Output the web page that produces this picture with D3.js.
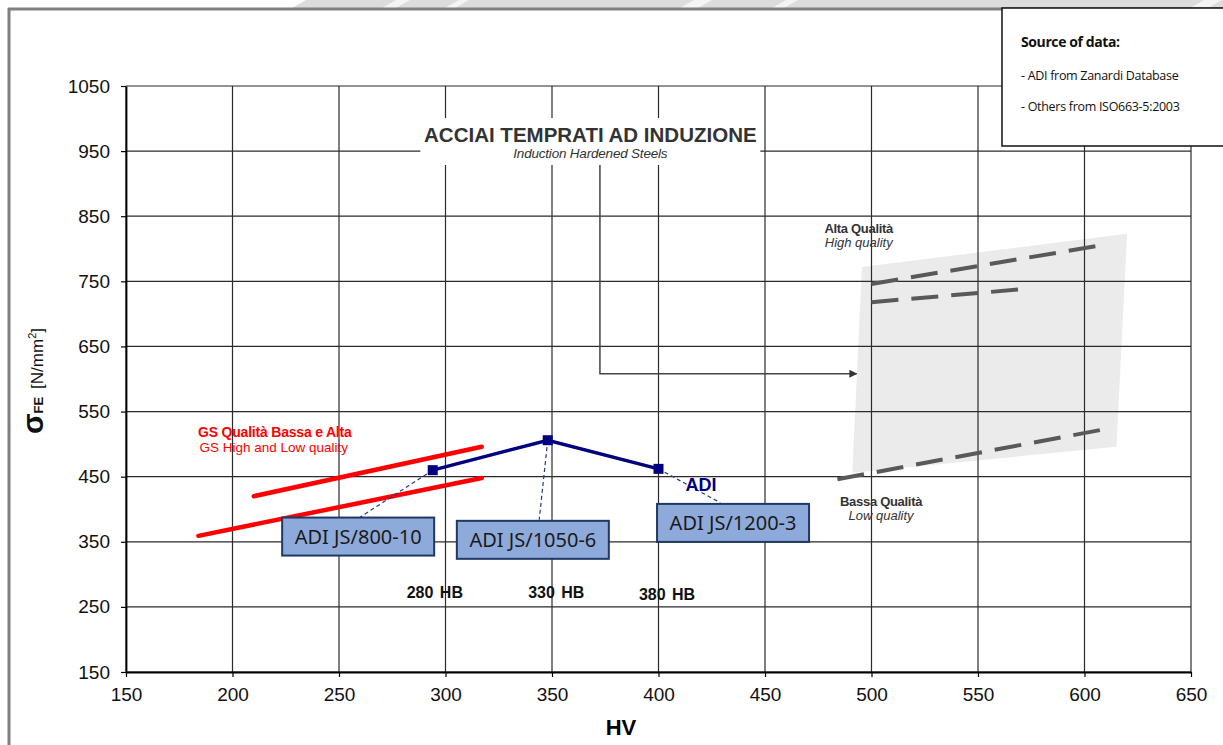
<!DOCTYPE html>
<html>
<head>
<meta charset="utf-8">
<script src="https://cdn.jsdelivr.net/npm/d3@7"></script>
<style>
  body { margin: 0; background: #fff; }
  svg { display: block; }
</style>
</head>
<body>
<div id="chart"></div>
<script>
// tick labels
const xTicks = [150, 200, 250, 300, 350, 400, 450, 500, 550, 600, 650];
const yTicks = [150, 250, 350, 450, 550, 650, 750, 850, 950, 1050];

// ADI (Zanardi)
const adiHV = [294, 348, 400];
const adiSigma = [460, 506, 462];
const adiGrades = ["ADI JS/800-10", "ADI JS/1050-6", "ADI JS/1200-3"];
const adiHB = ["280 HB", "330 HB", "380 HB"];
const gradeBoxHV = [259, 341, 435];
const gradeBoxSigma = [358, 353, 379];
const leaderHV = [260, 344, 429];
const leaderSigma = [388, 384, 410];
const hbLabelHV = [295, 352, 404];
const hbLabelSigma = [264, 264, 261];

// GS (ISO)
const gsHighHV = [210, 317];
const gsHighSigma = [420, 496];
const gsLowHV = [184, 317];
const gsLowSigma = [359, 448];

// Induction hardened steels
const ihHigh1HV = [500, 609];
const ihHigh1Sigma = [746, 806];
const ihHigh2HV = [500, 571];
const ihHigh2Sigma = [718, 738];
const ihLowHV = [484, 613];
const ihLowSigma = [446, 525];
const ihBandHV = [495.5, 620, 615, 491];
const ihBandSigma = [772, 823, 496, 456];
const arrowHV = [372.5, 372.5, 493];
const arrowSigma = [null, 608, 608];

const width = 1223;
const height = 745;

const svg = d3.select("#chart").append("svg")
  .attr("width", width)
  .attr("height", height)
  .style("font-family", "'Liberation Sans', Arial, sans-serif");

const x = d3.scaleLinear().domain([150, 650]).range([126, 1191]);
const y = d3.scaleLinear().domain([150, 1050]).range([672, 86]);

const line = d3.line().x(d => x(d[0])).y(d => y(d[1]));

// top watermark band + page frame
svg.append("polygon")
  .attr("points", `292,8 306,0 ${width},0 ${width},8`)
  .attr("fill", "#dcdcdc");
[[382, 396], [445, 455], [680, 698], [772, 784], [1190, 1208]].forEach(([a, b]) => {
  svg.append("polygon")
    .attr("points", `${a},8 ${a + 14},0 ${b + 14},0 ${b},8`)
    .attr("fill", "#f4f4f4");
});
svg.append("line").attr("x1", 8).attr("x2", width).attr("y1", 9).attr("y2", 9)
  .attr("stroke", "#7f7f7f").attr("stroke-width", 3);
svg.append("line").attr("x1", 9).attr("x2", 9).attr("y1", 8).attr("y2", height)
  .attr("stroke", "#7f7f7f").attr("stroke-width", 3);

// grey band behind induction steels
svg.append("polygon")
  .attr("points", ihBandHV.map((h, i) => `${x(h)},${y(ihBandSigma[i])}`).join(" "))
  .attr("fill", "#ebebeb");

// grid
svg.append("g").selectAll("line").data(xTicks).join("line")
  .attr("x1", d => x(d)).attr("x2", d => x(d))
  .attr("y1", y(1050)).attr("y2", y(150))
  .attr("stroke", "#2b2b2b").attr("stroke-width", 1.2);
svg.append("g").selectAll("line").data(yTicks).join("line")
  .attr("x1", x(150)).attr("x2", x(650))
  .attr("y1", d => y(d)).attr("y2", d => y(d))
  .attr("stroke", "#2b2b2b").attr("stroke-width", 1.2);

// axes
const xAxis = svg.append("g")
  .attr("transform", `translate(0,${y(150)})`)
  .call(d3.axisBottom(x).tickValues(xTicks).tickFormat(d3.format("d")).tickSize(5).tickSizeOuter(0).tickPadding(6));
const yAxis = svg.append("g")
  .attr("transform", `translate(${x(150)},0)`)
  .call(d3.axisLeft(y).tickValues(yTicks).tickFormat(d3.format("d")).tickSize(5).tickSizeOuter(0).tickPadding(11));
[xAxis, yAxis].forEach(a => {
  a.select(".domain").attr("stroke", "#000").attr("stroke-width", 1.8);
  a.selectAll(".tick line").attr("stroke", "#000").attr("stroke-width", 1.2);
  a.selectAll("text")
    .attr("fill", "#111")
    .style("font-family", "'Liberation Sans', Arial, sans-serif")
    .style("font-size", "19px");
});
xAxis.selectAll("text").attr("dy", "0.95em");

// axis titles
svg.append("text")
  .attr("x", 621).attr("y", 735)
  .attr("text-anchor", "middle")
  .attr("font-size", "22px").attr("font-weight", "bold")
  .text("HV");

const yTitle = svg.append("text")
  .attr("transform", "translate(43,381) rotate(-90)")
  .attr("text-anchor", "middle")
  .attr("fill", "#111");
yTitle.append("tspan").attr("font-size", "30px").attr("font-weight", "bold").text("σ");
yTitle.append("tspan").attr("font-size", "13px").attr("font-weight", "bold").text("FE");
yTitle.append("tspan").attr("font-size", "17px").attr("dx", 8).text("[N/mm");
yTitle.append("tspan").attr("font-size", "11px").attr("dy", -7).text("2");
yTitle.append("tspan").attr("font-size", "17px").attr("dy", 7).text("]");

// title with white box
const title = svg.append("g");
const tHV = 368;
title.append("rect")
  .attr("x", x(tHV) - 170).attr("y", 118)
  .attr("width", 340).attr("height", 47)
  .attr("fill", "#fff");
title.append("text")
  .attr("x", x(tHV)).attr("y", 142)
  .attr("text-anchor", "middle")
  .attr("font-size", "20.5px").attr("font-weight", "bold")
  .attr("fill", "#333")
  .text("ACCIAI TEMPRATI AD INDUZIONE");
title.append("text")
  .attr("x", x(tHV)).attr("y", 158)
  .attr("text-anchor", "middle")
  .attr("font-size", "13.5px").attr("font-style", "italic")
  .attr("fill", "#333")
  .attr("letter-spacing", "-0.2")
  .text("Induction Hardened Steels");

// arrow from title to band
svg.append("defs").append("marker")
  .attr("id", "arrow")
  .attr("viewBox", "0 0 10 10")
  .attr("refX", 9).attr("refY", 5)
  .attr("markerWidth", 8).attr("markerHeight", 8)
  .attr("markerUnits", "userSpaceOnUse")
  .attr("orient", "auto")
  .append("path").attr("d", "M0,0 L10,5 L0,10 Z").attr("fill", "#333");
svg.append("path")
  .attr("d", `M${x(arrowHV[0])},165 L${x(arrowHV[1])},${y(arrowSigma[1])} L${x(arrowHV[2])},${y(arrowSigma[2])}`)
  .attr("fill", "none")
  .attr("stroke", "#444").attr("stroke-width", 1.5)
  .attr("marker-end", "url(#arrow)");

// induction dashed lines
[[ihHigh1HV, ihHigh1Sigma], [ihHigh2HV, ihHigh2Sigma], [ihLowHV, ihLowSigma]].forEach(([hv, s]) => {
  svg.append("path")
    .attr("d", line(hv.map((h, i) => [h, s[i]])))
    .attr("fill", "none")
    .attr("stroke", "#595959").attr("stroke-width", 4)
    .attr("stroke-dasharray", "27 13");
});

svg.append("text").attr("x", x(494)).attr("y", y(824))
  .attr("text-anchor", "middle").attr("font-size", "13px").attr("font-weight", "bold")
  .attr("fill", "#333").attr("letter-spacing", "-0.3").text("Alta Qualità");
svg.append("text").attr("x", x(494)).attr("y", y(803))
  .attr("text-anchor", "middle").attr("font-size", "13px").attr("font-style", "italic")
  .attr("fill", "#333").text("High quality");
svg.append("text").attr("x", x(504.5)).attr("y", y(405))
  .attr("text-anchor", "middle").attr("font-size", "13px").attr("font-weight", "bold")
  .attr("fill", "#333").attr("letter-spacing", "-0.3").text("Bassa Qualità");
svg.append("text").attr("x", x(504.5)).attr("y", y(383))
  .attr("text-anchor", "middle").attr("font-size", "13px").attr("font-style", "italic")
  .attr("fill", "#333").text("Low quality");

// GS lines
[[gsHighHV, gsHighSigma], [gsLowHV, gsLowSigma]].forEach(([hv, s]) => {
  svg.append("path")
    .attr("d", line(hv.map((h, i) => [h, s[i]])))
    .attr("fill", "none")
    .attr("stroke", "#ff0000").attr("stroke-width", 4.5)
    .attr("stroke-linecap", "round");
});
svg.append("text").attr("x", x(183.8)).attr("y", y(511))
  .attr("font-size", "14px").attr("font-weight", "bold").attr("fill", "#ff0000")
  .attr("letter-spacing", "-0.2").text("GS Qualità Bassa e Alta");
svg.append("text").attr("x", x(184.5)).attr("y", y(488))
  .attr("font-size", "13.5px").attr("fill", "#ff0000")
  .text("GS High and Low quality");

// ADI leaders
svg.append("g").selectAll("line").data(adiHV).join("line")
  .attr("x1", d => x(d)).attr("y1", (d, i) => y(adiSigma[i]))
  .attr("x2", (d, i) => x(leaderHV[i])).attr("y2", (d, i) => y(leaderSigma[i]))
  .attr("stroke", "#1f3c88").attr("stroke-width", 1.2)
  .attr("stroke-dasharray", "4 3");

// ADI line + markers
svg.append("path")
  .attr("d", line(adiHV.map((h, i) => [h, adiSigma[i]])))
  .attr("fill", "none")
  .attr("stroke", "#000080").attr("stroke-width", 3.5);
svg.append("g").selectAll("rect").data(adiHV).join("rect")
  .attr("x", d => x(d) - 5).attr("y", (d, i) => y(adiSigma[i]) - 5)
  .attr("width", 10).attr("height", 10)
  .attr("fill", "#000080");

svg.append("text").attr("x", x(420)).attr("y", y(428))
  .attr("text-anchor", "middle").attr("font-size", "18px").attr("font-weight", "bold")
  .attr("fill", "#000080").text("ADI");

// grade boxes
const boxes = svg.append("g").selectAll("g").data(adiGrades).join("g")
  .attr("transform", (d, i) => `translate(${x(gradeBoxHV[i])},${y(gradeBoxSigma[i])})`);
boxes.append("rect")
  .attr("x", -76).attr("y", -19).attr("width", 152).attr("height", 38)
  .attr("fill", "#8eaadb").attr("stroke", "#1f3864").attr("stroke-width", 2);
boxes.append("text")
  .attr("text-anchor", "middle").attr("dy", "0.36em")
  .style("font-family", "'Noto Sans', 'Open Sans', sans-serif")
  .attr("font-size", "20px").attr("fill", "#1a1a1a")
  .text(d => d);

// HB labels
svg.append("g").selectAll("text").data(adiHB).join("text")
  .attr("x", (d, i) => x(hbLabelHV[i])).attr("y", (d, i) => y(hbLabelSigma[i]))
  .attr("text-anchor", "middle")
  .attr("font-size", "16px").attr("font-weight", "bold").attr("fill", "#111")
  .attr("word-spacing", "2")
  .text(d => d);

// source box
const src = svg.append("g");
src.append("rect")
  .attr("x", 1002).attr("y", 8).attr("width", 240).attr("height", 138)
  .attr("fill", "#fff").attr("stroke", "#111").attr("stroke-width", 1.5);
src.append("text").attr("x", 1021).attr("y", 47)
  .style("font-family", "'Open Sans', sans-serif")
  .attr("font-size", "14px").attr("font-weight", "bold").attr("fill", "#111")
  .attr("letter-spacing", "-0.4")
  .text("Source of data:");
src.append("text").attr("x", 1021).attr("y", 80)
  .style("font-family", "'Open Sans', sans-serif")
  .attr("font-size", "12.5px").attr("fill", "#111").attr("letter-spacing", "-0.3")
  .text("- ADI from Zanardi Database");
src.append("text").attr("x", 1021).attr("y", 111)
  .style("font-family", "'Open Sans', sans-serif")
  .attr("font-size", "12.5px").attr("fill", "#111").attr("letter-spacing", "-0.3")
  .text("- Others from ISO663-5:2003");
</script>
</body>
</html>
